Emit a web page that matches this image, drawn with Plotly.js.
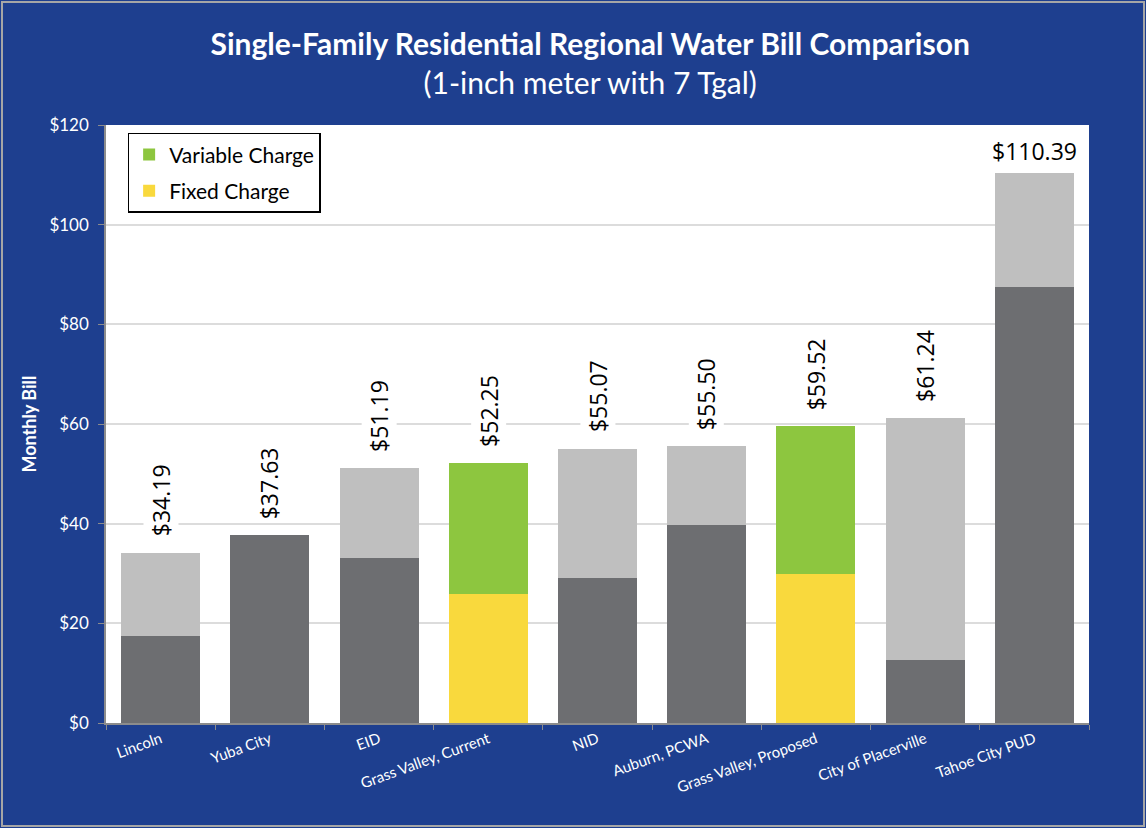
<!DOCTYPE html>
<html>
<head>
<meta charset="utf-8">
<script src="https://cdn.plot.ly/plotly-3.0.1.min.js"></script>
<style>
  body { margin: 0; background: #1e3f8f; }
  #plotArea { width: 1146px; height: 828px; }
</style>
</head>
<body>
<div id="plotArea"></div>
<script>
// utilities in the comparison
var categories = ['Lincoln', 'Yuba City', 'EID', 'Grass Valley, Current', 'NID',
    'Auburn, PCWA', 'Grass Valley, Proposed', 'City of Placerville', 'Tahoe City PUD'];
// monthly bill totals (from the data labels)
var totals = [34.19, 37.63, 51.19, 52.25, 55.07, 55.50, 59.52, 61.24, 110.39];
// fixed part of the bill
var fixedCharge = [17.5, 37.63, 33.1, 25.9, 29.1, 39.8, 29.9, 12.7, 87.4];
// Grass Valley bars get the highlight colours
var highlighted = ['Grass Valley, Current', 'Grass Valley, Proposed'];

var variableCharge = totals.map(function (t, i) { return +(t - fixedCharge[i]).toFixed(2); });
function isHi(c) { return highlighted.indexOf(c) >= 0; }
function pick(arr, hi) {
    return categories.map(function (c, i) { return isHi(c) === hi ? arr[i] : null; });
}

var font = 'Lato, "Open Sans", sans-serif';
var labelFont = '"Open Sans", sans-serif';

var greyFixed = {
    x: categories, y: pick(fixedCharge, false), type: 'bar', name: 'Fixed (other)',
    marker: {color: '#6d6e71'}, showlegend: false, hoverinfo: 'y'
};
var yellowFixed = {
    x: categories, y: pick(fixedCharge, true), type: 'bar', name: 'Fixed Charge',
    marker: {color: '#f9d93d'}, legendgroup: 'f', legendrank: 2
};
var greyVar = {
    x: categories, y: pick(variableCharge, false), type: 'bar', name: 'Variable (other)',
    marker: {color: '#bfbfbf'}, showlegend: false, hoverinfo: 'y'
};
var greenVar = {
    x: categories, y: pick(variableCharge, true), type: 'bar', name: 'Variable Charge',
    marker: {color: '#8dc63f'}, legendgroup: 'v', legendrank: 1
};

var labels = categories.map(function (c, i) {
    var flat = totals[i] > 100;
    return {
        x: c, y: totals[i], xref: 'x', yref: 'y',
        text: '$' + totals[i].toFixed(2),
        showarrow: false,
        textangle: flat ? 0 : -90,
        xanchor: 'center', yanchor: 'bottom',
        yshift: flat ? 4 : 14,
        bgcolor: '#ffffff', borderpad: 1,
        font: {family: labelFont, size: 23, color: '#000000'}
    };
});

var layout = {
    width: 1146, height: 828,
    paper_bgcolor: '#1e3f8f',
    plot_bgcolor: '#ffffff',
    margin: {l: 106, r: 57, t: 125, b: 105},
    barmode: 'stack',
    bargap: 0.277,
    font: {family: font, color: '#ffffff'},
    title: {
        text: '<b>Single-Family Residential Regional Water Bill Comparison</b><br>(1-inch meter with 7 Tgal)',
        font: {family: font, size: 30, color: '#ffffff'},
        xref: 'container', x: 0.515, xanchor: 'center',
        yref: 'container', y: 0.934, yanchor: 'middle'
    },
    xaxis: {
        tickangle: -20,
        tickfont: {family: font, size: 15, color: '#ffffff'},
        showline: true, linecolor: '#8c8c8c', linewidth: 1.5,
        ticks: 'outside', tickson: 'boundaries', ticklen: 5, tickcolor: '#8c8c8c',
        showgrid: false
    },
    yaxis: {
        range: [0, 120], dtick: 20, tickprefix: '$',
        tickfont: {family: font, size: 17, color: '#ffffff'},
        showline: true, linecolor: '#8c8c8c', linewidth: 1.5,
        ticks: 'outside', ticklen: 6, tickcolor: '#8c8c8c', ticklabelstandoff: 6,
        gridcolor: '#dcdcdc', gridwidth: 1.5, zeroline: false,
        title: {text: '<b>Monthly Bill</b>', font: {family: font, size: 18, color: '#ffffff'}, standoff: 8}
    },
    legend: {
        x: 0.022, y: 0.987, xanchor: 'left', yanchor: 'top',
        bgcolor: '#ffffff', bordercolor: '#000000', borderwidth: 1.5,
        font: {family: font, size: 21, color: '#000000'},
        traceorder: 'grouped', tracegroupgap: 6
    },
    annotations: labels,
    shapes: [{
        type: 'rect', xref: 'paper', yref: 'paper',
        x0: -104 / 983, x1: 1144 / 983 - 106 / 983,
        y0: -103 / 598, y1: 721 / 598,
        line: {color: '#a6a6a6', width: 2}, fillcolor: 'rgba(0,0,0,0)', layer: 'below'
    }]
};

Plotly.newPlot('plotArea', [greyFixed, yellowFixed, greyVar, greenVar], layout, {displayModeBar: false});
</script>
</body>
</html>
